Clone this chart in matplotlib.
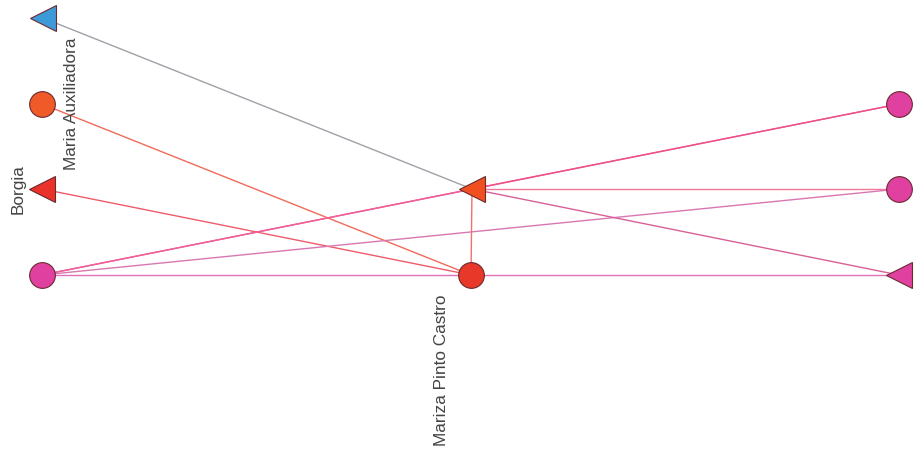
import matplotlib.pyplot as plt

# node positions (canvas pixels), shape and colour
node_names = ["A", "B", "C", "D", "E", "F", "G", "H", "I"]
node_x = [43, 42, 42, 42, 472, 471, 899, 899, 899]
node_y = [18, 104, 189, 275, 189, 275, 104, 189, 275]
node_marker = ["<", "o", "<", "o", "<", "o", "o", "o", "<"]
node_color = ["#3d9ad8", "#f05a28", "#e8322a", "#e040a0", "#f05020",
              "#e8382a", "#e040a0", "#e040a0", "#e040a0"]

# edges (source, target, colour)
edges = [
    ("A", "E", "#a0a0a8"),
    ("B", "F", "#f06a5a"),
    ("C", "F", "#f05a6a"),
    ("D", "E", "#f0508a"),
    ("D", "G", "#f0609a"),
    ("E", "G", "#f0508a"),
    ("D", "H", "#d878b0"),
    ("D", "I", "#e070b8"),
    ("E", "F", "#f07070"),
    ("E", "H", "#f07898"),
    ("E", "I", "#d86098"),
]

# labels: node, text
labels = [("B", "Maria Auxiliadora"), ("C", "Borgia"), ("F", "Mariza Pinto Castro")]
label_dx = [29, -24, -30]
label_dy = [0, 0, 95]

pos = {n: (x, y) for n, x, y in zip(node_names, node_x, node_y)}

fig = plt.figure(figsize=(9.16, 4.58), dpi=100)
ax = fig.add_axes([0, 0, 1, 1])
ax.set_xlim(0, 916)
ax.set_ylim(458, 0)
ax.axis("off")

for s, t, c in edges:
    ax.plot([pos[s][0], pos[t][0]], [pos[s][1], pos[t][1]], color=c, lw=1.0, zorder=1)

for x, y, m, c in zip(node_x, node_y, node_marker, node_color):
    ax.plot(x, y, marker=m, ms=18.5, color=c, mec="#6a2a30", mew=0.8,
            linestyle="none", zorder=2)

for (n, txt), dx, dy in zip(labels, label_dx, label_dy):
    ax.text(pos[n][0] + dx, pos[n][1] + dy, txt, rotation=90, ha="center", va="center",
            fontsize=12.4, color="#444444", family="Liberation Sans", zorder=3)

fig.savefig("out.png", dpi=100)
